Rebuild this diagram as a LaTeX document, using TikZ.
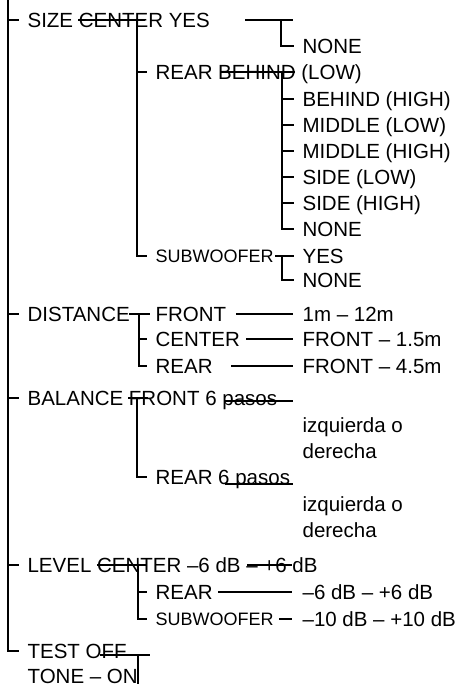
\documentclass[tikz,border=0pt]{standalone}
\usepackage{fontspec}
\setmainfont{Liberation Sans}
\usetikzlibrary{positioning}

\tikzset{
  item/.style={anchor=west, inner sep=0pt, text height=14.5pt, text depth=0pt,
    font=\fontsize{20.5}{24}\selectfont},
  itemsm/.style={item, text height=13pt, font=\fontsize{18}{22}\selectfont},
  stem/.style={shorten >=8pt},
}

\begin{document}
\begin{tikzpicture}[x=1pt, y=-1pt, line width=1.2pt]
  \useasboundingbox (0,0) rectangle (462,690);

  % first column
  \node[item] (size)  at (27,20)  {SIZE CENTER YES};
  \node[item] (dist)  at (27,314) {DISTANCE};
  \node[item] (bal)   at (27,398) {BALANCE FRONT 6 pasos};
  \node[item] (level) at (27,565) {LEVEL CENTER --6 dB -- +6 dB};
  \node[item] (test)  at (27,651) {TEST OFF};
  \node[item] (tone)  at (27,676) {TONE -- ON};

  % second column
  \node[item]   (rear)   at (155,72)  {REAR BEHIND (LOW)};
  \node[itemsm] (sub)    at (155,256) {SUBWOOFER};
  \node[item]   (dfront) at (155,314) {FRONT};
  \node[item]   (dcen)   at (155,339) {CENTER};
  \node[item]   (drear)  at (155,366) {REAR};
  \node[item]   (brear)  at (155,477) {REAR 6 pasos};
  \node[item]   (lrear)  at (155,592) {REAR};
  \node[itemsm] (lsub)   at (155,619) {SUBWOOFER};

  % third column
  \node[item] (snone) at (302,46)  {NONE};
  \node[item] (r1)    at (302,99)  {BEHIND (HIGH)};
  \node[item] (r2)    at (302,125) {MIDDLE (LOW)};
  \node[item] (r3)    at (302,151) {MIDDLE (HIGH)};
  \node[item] (r4)    at (302,177) {SIDE (LOW)};
  \node[item] (r5)    at (302,203) {SIDE (HIGH)};
  \node[item] (rnone) at (302,229) {NONE};
  \node[item] (wyes)  at (302,256) {YES};
  \node[item] (wnone) at (302,280) {NONE};
  \node[item] (dv1)   at (302,314) {1m -- 12m};
  \node[item] (dv2)   at (302,339) {FRONT -- 1.5m};
  \node[item] (dv3)   at (302,366) {FRONT -- 4.5m};
  \node[item] (bf1)   at (302,425) {izquierda o};
  \node[item] (bf2)   at (302,451) {derecha};
  \node[item] (br1)   at (302,504) {izquierda o};
  \node[item] (br2)   at (302,530) {derecha};
  \node[item] (lrv)   at (302,592) {--6 dB -- +6 dB};
  \node[item] (lsv)   at (302,619) {--10 dB -- +10 dB};

  % trunk
  \coordinate (trunk) at (8,0);
  \draw[stem] (trunk) |- (test.west);
  \foreach \n in {size,dist,bal,level}
    \draw[stem] (trunk |- \n.west) -- (\n.west);

  % second level branches
  \coordinate (sz) at (137,20);
  \coordinate (ds) at (139,314);
  \coordinate (bl) at (137,398);
  \coordinate (lv) at (138,565);
  \coordinate (ts) at (138,655);
  \draw (sz) ++(-59,0) -- ++(67,0);
  \draw[stem] (sz) |- (sub.west);
  \draw[stem] (sz |- rear.west) -- (rear.west);
  \draw (ds) ++(-10,0) -- ++(21,0);
  \draw[stem] (ds) |- (drear.west);
  \draw[stem] (ds |- dcen.west) -- (dcen.west);
  \draw (bl) ++(-9,0) -- ++(20,0);
  \draw[stem] (bl) |- (brear.west);
  \draw (lv) ++(-41,0) -- ++(50,0);
  \draw[stem] (lv) |- (lsub.west);
  \draw[stem] (lv |- lrear.west) -- (lrear.west);
  \draw (ts) ++(-38,0) -- ++(50,0);
  \draw (ts) -- (ts |- tone.south);

  % third level branches
  \coordinate (yb) at (281,20);
  \coordinate (rb) at (282,72);
  \coordinate (wb) at (282,256);
  \draw (yb) ++(-36,0) -- ++(48,0);
  \draw[stem] (yb) |- (snone.west);
  \draw (rb) ++(-62,0) -- ++(75,0);
  \draw[stem] (rb) |- (rnone.west);
  \foreach \n in {r1,r2,r3,r4,r5}
    \draw[stem] (rb |- \n.west) -- (\n.west);
  \draw[stem, shorten <=1pt] (sub.east) -- (wyes.west);
  \draw[stem] (wb) |- (wnone.west);

  % value lines
  \draw[stem, shorten >=9pt, shorten <=9pt] (dfront.east) -- (dv1.west);
  \draw[stem, shorten >=9pt, shorten <=6pt] (dcen.east) -- (dv2.west);
  \draw[stem, shorten >=9pt, shorten <=18pt] (drear.east) -- (dv3.west);
  \coordinate (bs) at (225,401);
  \coordinate (bu) at (225,484);
  \draw (bs) -- ++(68,0);
  \draw (bu) -- ++(68,0);
  \coordinate (ls) at (247,565);
  \draw (ls) -- ++(45,0);
  \draw[stem, shorten >=10pt, shorten <=5pt] (lrear.east) -- (lrv.west);
  \draw[stem, shorten >=10pt, shorten <=5pt] (lsub.east) -- (lsv.west);
\end{tikzpicture}
\end{document}
